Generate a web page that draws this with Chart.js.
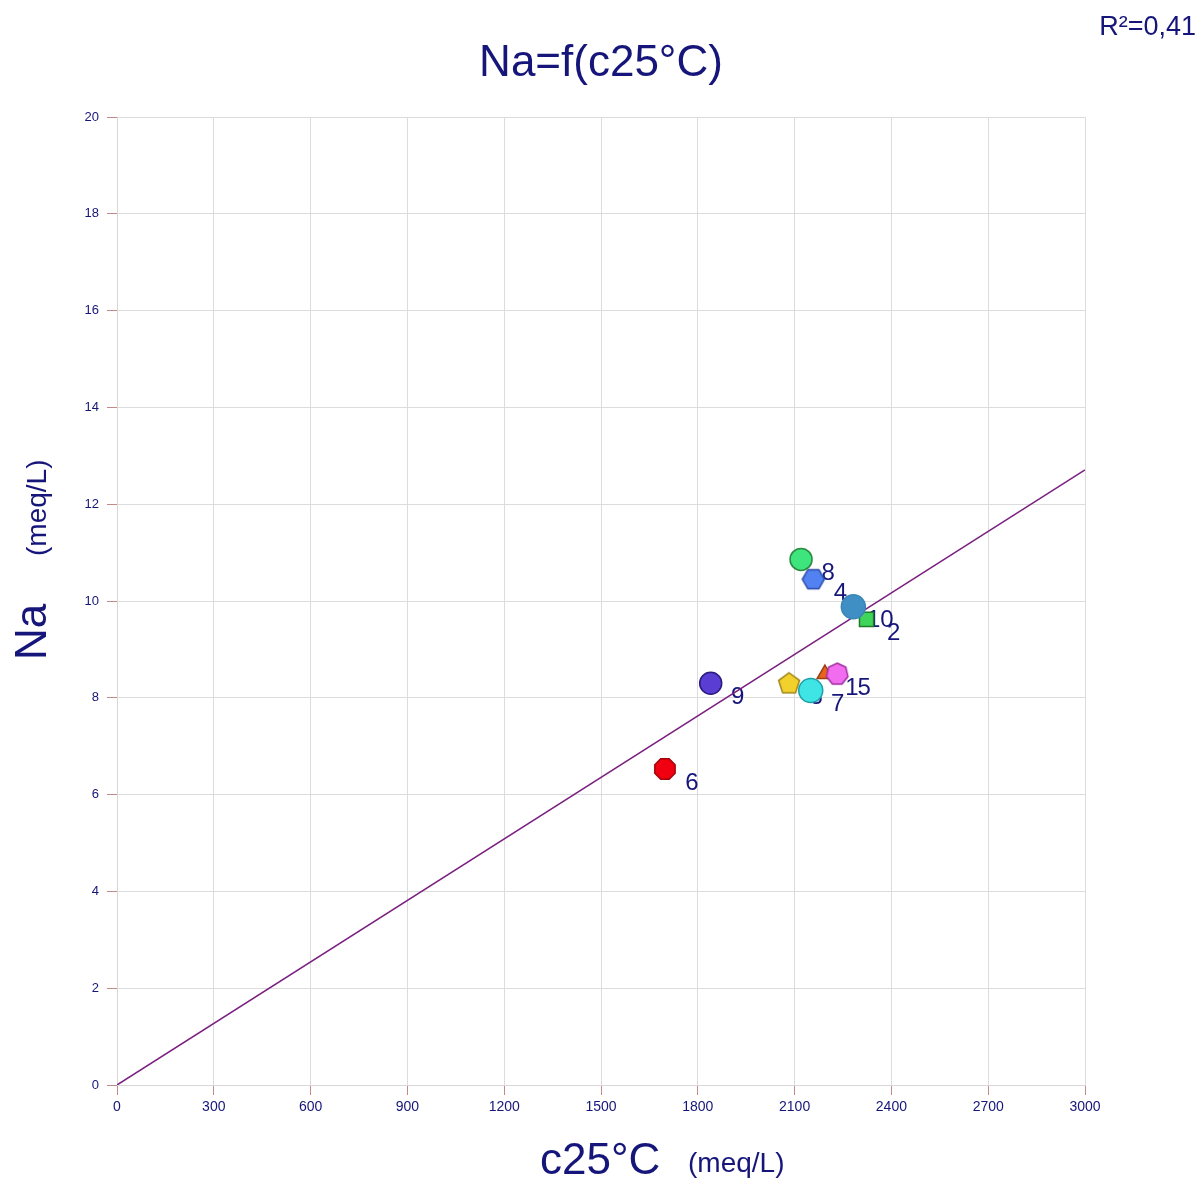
<!DOCTYPE html>
<html>
<head>
<meta charset="utf-8">
<script src="https://cdn.jsdelivr.net/npm/chart.js@4.4.1/dist/chart.umd.min.js"></script>
<style>
  html, body { margin: 0; padding: 0; background: #fff; }
  #wrap { width: 1200px; height: 1178px; position: relative; }
</style>
</head>
<body>
<div id="wrap"><canvas id="c"></canvas></div>
<script>
// sample ids, conductivity (x) and Na (y)
const ids   = ['1', '2', '3', '4', '5', '6', '7', '8', '9', '10'];
const cond  = [2194, 2323, 2083, 2158, 2232, 1698, 2150, 2120, 1840, 2282];
const na    = [8.49, 9.62, 8.29, 10.45, 8.49, 6.53, 8.15, 10.86, 8.30, 9.88];
const shapes = ['triangle', 'rect', 5, 6, 7, 8, 'circle', 'circle', 'circle', 'circle'];
const fills   = ['#e8641e', '#3fd45a', '#f2d12c', '#5282f2', '#f26cf0', '#f00010', '#3fe4e4', '#3ee47c', '#5a3ed4', '#3f8fc4'];
const borders = ['#9a4012', '#1f7a2c', '#a0861a', '#2a48a8', '#a030a0', '#a00008', '#20a0a8', '#2a8a40', '#2c1a80', '#3a86b6'];
const sizes   = [9, 10, 11, 11, 11, 11, 12, 11, 11, 12];

// regression line through origin
const fitX = [0, 3000];
const fitY = [0, 12.71];
const r2text = 'R²=0,41';

const navy = '#15157a';
const FONT = '"Liberation Sans", Arial, sans-serif';

function polygonImg(n, r, fill, stroke) {
  const c = document.createElement('canvas');
  const s = Math.ceil(r * 2 + 4);
  c.width = s; c.height = s;
  const g = c.getContext('2d');
  g.beginPath();
  for (let i = 0; i < n; i++) {
    const a = -Math.PI / 2 + i * 2 * Math.PI / n + (n % 2 === 0 ? Math.PI / n : 0);
    const px = s / 2 + r * Math.cos(a), py = s / 2 + r * Math.sin(a);
    i ? g.lineTo(px, py) : g.moveTo(px, py);
  }
  g.closePath();
  g.fillStyle = fill; g.fill();
  g.lineWidth = 1.5; g.strokeStyle = stroke; g.stroke();
  return c;
}

const pointStyles = shapes.map((s, i) => typeof s === 'number' ? polygonImg(s, sizes[i], fills[i], borders[i]) : s);

const extras = {
  id: 'extras',
  beforeDatasetsDraw(chart) {
    const { ctx, scales: { x, y } } = chart;
    ctx.save();
    ctx.fillStyle = navy;
    ctx.font = '24px ' + FONT;
    ctx.textAlign = 'center';
    ctx.textBaseline = 'middle';
    ids.forEach((id, i) => {
      ctx.fillText(id, x.getPixelForValue(cond[i]) + 27, y.getPixelForValue(na[i]) + 14);
    });
    ctx.restore();
  },
  afterDraw(chart) {
    const { ctx } = chart;
    ctx.save();
    ctx.fillStyle = navy;
    ctx.textBaseline = 'alphabetic';
    ctx.textAlign = 'center';
    ctx.font = '44px ' + FONT;
    ctx.fillText('Na=f(c25°C)', 601, 76);
    ctx.textAlign = 'right';
    ctx.font = '27px ' + FONT;
    ctx.fillText(r2text, 1196, 35);
    // x title
    ctx.textAlign = 'left';
    ctx.font = '44px ' + FONT;
    ctx.fillText('c25°C', 540, 1174);
    ctx.font = '28px ' + FONT;
    ctx.fillText('(meq/L)', 688, 1172);
    // y title
    ctx.save();
    ctx.translate(46, 660);
    ctx.rotate(-Math.PI / 2);
    ctx.font = '44px ' + FONT;
    ctx.fillText('Na', 0, 0);
    ctx.restore();
    ctx.save();
    ctx.translate(46, 556);
    ctx.rotate(-Math.PI / 2);
    ctx.font = '28px ' + FONT;
    ctx.fillText('(meq/L)', 0, 0);
    ctx.restore();
    ctx.restore();
  }
};

new Chart(document.getElementById('c'), {
  type: 'scatter',
  data: {
    datasets: [
      {
        type: 'line',
        data: fitX.map((v, i) => ({ x: v, y: fitY[i] })),
        borderColor: '#7a2080',
        borderWidth: 1.5,
        pointRadius: 0,
        fill: false,
        order: 2
      },
      {
        data: cond.map((v, i) => ({ x: v, y: na[i] })),
        pointStyle: pointStyles,
        pointRadius: sizes,
        backgroundColor: fills,
        borderColor: borders,
        borderWidth: 1.5,
        order: 1
      }
    ]
  },
  options: {
    responsive: true,
    maintainAspectRatio: false,
    animation: false,
    layout: { padding: { top: 117, right: 115, left: 0, bottom: 0 } },
    plugins: { legend: { display: false }, tooltip: { enabled: false }, title: { display: false } },
    scales: {
      x: {
        type: 'linear', min: 0, max: 3000,
        afterFit(s) { s.height = 93; },
        ticks: { stepSize: 300, color: navy, font: { family: FONT, size: 14 }, padding: 4, maxRotation: 0,
                 callback: v => String(v) },
        grid: { color: '#dcdcdc', tickColor: '#c08a8a', tickLength: 10, lineWidth: 1 },
        border: { color: '#d8d8d8' }
      },
      y: {
        type: 'linear', min: 0, max: 20,
        afterFit(s) { s.width = 117; },
        ticks: { stepSize: 2, color: navy, font: { family: FONT, size: 13 }, padding: 8 },
        grid: { color: '#dcdcdc', tickColor: '#c08a8a', tickLength: 10, lineWidth: 1 },
        border: { color: '#d8d8d8' }
      }
    }
  },
  plugins: [extras]
});
</script>
</body>
</html>
